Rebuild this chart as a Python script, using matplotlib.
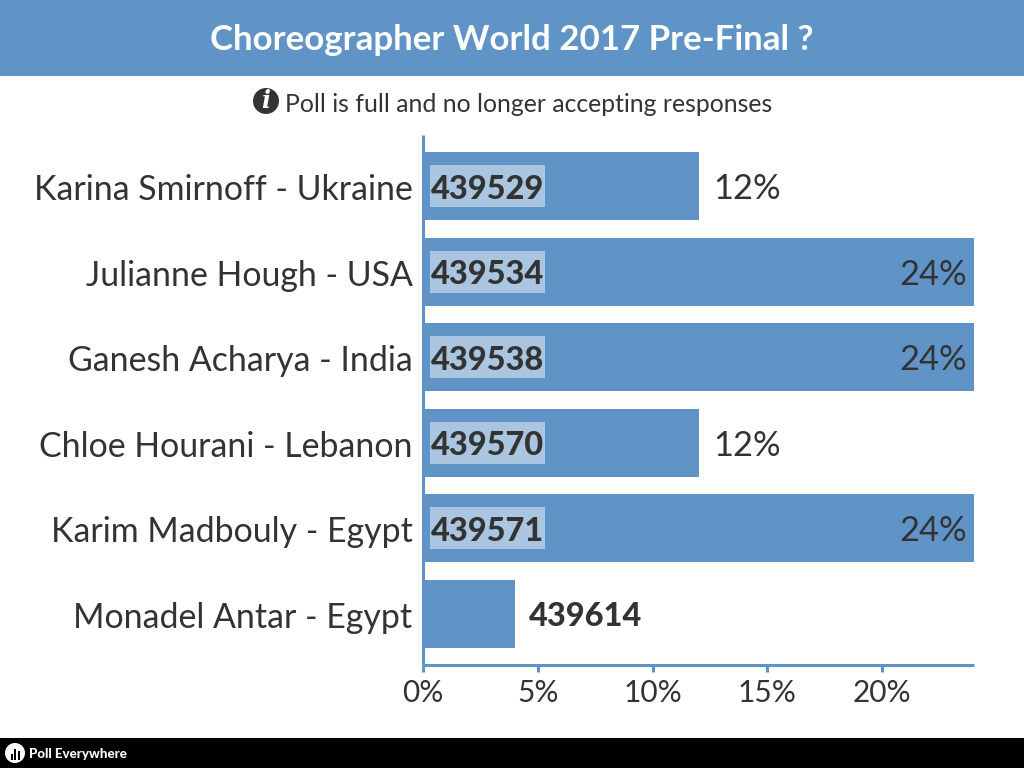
import matplotlib
matplotlib.use("Agg")
import matplotlib.pyplot as plt
from matplotlib.patches import Rectangle, Circle
from matplotlib.transforms import offset_copy, IdentityTransform

FONT = "Lato"
plt.rcParams["font.family"] = [FONT, "DejaVu Sans"]

title = "Choreographer World 2017 Pre-Final ?"
notice = "Poll is full and no longer accepting responses"
brand = "Poll Everywhere"
categories = ["Karina Smirnoff - Ukraine", "Julianne Hough - USA", "Ganesh Acharya - India",
              "Chloe Hourani - Lebanon", "Karim Madbouly - Egypt", "Monadel Antar - Egypt"]
values = [12, 24, 24, 12, 24, 4]
ids = ["439529", "439534", "439538", "439570", "439571", "439614"]
pct_labels = ["12%", "24%", "24%", "12%", "24%", None]
xticks = [0, 5, 10, 15, 20]
xticklabels = ["0%", "5%", "10%", "15%", "20%"]

BLUE = "#6194c6"
LIGHT = "#a9c5e0"
INK = "#333333"
W, H = 1024, 768
fig = plt.figure(figsize=(W / 100, H / 100), dpi=100, facecolor="white")

def fx(x): return x / W
def fy(y): return 1 - y / H

# banners
fig.add_artist(Rectangle((0, fy(76)), 1, 76 / H, transform=fig.transFigure, color=BLUE, lw=0))
fig.add_artist(Rectangle((0, 0), 1, 30 / H, transform=fig.transFigure, color="black", lw=0))
fig.text(fx(511.5), fy(40), title, color="white", fontsize=25.1, fontweight="bold", ha="center", va="center")
fig.text(fx(285), fy(104), notice, color=INK, fontsize=17.85, ha="left", va="center")

# overlay in pixel coordinates for the icons
ov = fig.add_axes([0, 0, 1, 1], zorder=5)
ov.set_xlim(0, W); ov.set_ylim(H, 0); ov.axis("off"); ov.patch.set_alpha(0)
ov.add_patch(Circle((266, 101), 13, color=INK, lw=0))
ov.text(266, 101, "i", color="white", fontsize=17, fontweight="bold", fontstyle="italic",
        family="DejaVu Serif", ha="center", va="center")
ov.add_patch(Circle((15, 753), 10, color="white", lw=0))
for bx, bt, bw in [(11, 754, 2.2), (14, 749, 2.4), (17.6, 751, 2.2)]:
    ov.add_patch(Rectangle((bx, bt), bw, 760 - bt, color="black", lw=0))
ov.text(29, 754, brand, color="white", fontsize=9.6, fontweight="black", ha="left", va="center")

# chart
x0, x1 = 423, 974
ax = fig.add_axes([fx(x0), fy(665), (x1 - x0) / W, (665 - 135) / H])
ypos = list(range(len(categories)))
ax.barh(ypos, values, height=0.795, color=BLUE, lw=0, zorder=2)
ax.set_xlim(0, 24)
ax.set_ylim(5.596, -0.596)
for s in ("top", "right"):
    ax.spines[s].set_visible(False)
for s in ("left", "bottom"):
    ax.spines[s].set_color(BLUE); ax.spines[s].set_linewidth(2.2); ax.spines[s].set_capstyle("butt")
ax.set_yticks(ypos, categories, fontsize=24.4, color=INK)
ax.tick_params(axis="y", length=0, pad=7.5)
for lab in ax.get_yticklabels():
    lab.set_transform(offset_copy(lab.get_transform(), fig=fig, x=0, y=-1, units="dots"))
ax.set_xticks(xticks, xticklabels, fontsize=21.5, color=INK)
ax.tick_params(axis="x", length=5, width=2.2, color=BLUE, pad=5)

tr = ax.transData
fig.canvas.draw()
for y, v, code, pct in zip(ypos, values, ids, pct_labels):
    if pct is None:
        ax.text(v, y, code, fontsize=23.4, fontweight="black", color=INK, ha="left", va="center",
                transform=offset_copy(tr, fig=fig, x=14, y=-3, units="dots"))
        continue
    yc = ax.transData.transform((0, y))[1]
    ax.add_patch(Rectangle((x0 + 7, yc - 21), 115, 42, transform=IdentityTransform(),
                           facecolor=LIGHT, edgecolor="none", zorder=3))
    ax.text(0, y, code, fontsize=23.4, fontweight="black", color=INK, ha="left", va="center", zorder=4,
            transform=offset_copy(tr, fig=fig, x=8, y=-3, units="dots"))
    if v == max(values):
        ax.text(v, y, pct, fontsize=24.8, color=INK, ha="right", va="center", zorder=4,
                transform=offset_copy(tr, fig=fig, x=-7, y=-3, units="dots"))
    else:
        ax.text(v, y, pct, fontsize=24.8, color=INK, ha="left", va="center",
                transform=offset_copy(tr, fig=fig, x=15, y=-3, units="dots"))

fig.savefig("out.png", dpi=100, facecolor="white")
